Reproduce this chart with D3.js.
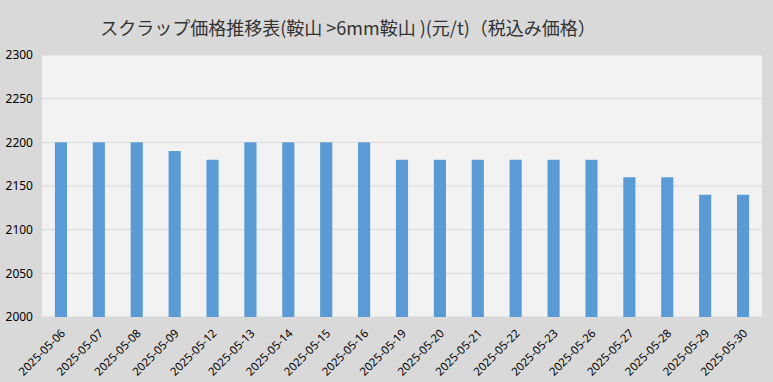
<!DOCTYPE html>
<html><head><meta charset="utf-8">
<script src="https://cdn.jsdelivr.net/npm/d3@7"></script>
<style>body{margin:0;background:#d9d9d9;}svg{display:block;}</style>
</head><body><svg id="c" width="773" height="382"></svg>
<script>
const categories = ["2025-05-06","2025-05-07","2025-05-08","2025-05-09","2025-05-12","2025-05-13","2025-05-14","2025-05-15","2025-05-16","2025-05-19","2025-05-20","2025-05-21","2025-05-22","2025-05-23","2025-05-26","2025-05-27","2025-05-28","2025-05-29","2025-05-30"];
const values = [2200,2200,2200,2190,2180,2200,2200,2200,2200,2180,2180,2180,2180,2180,2180,2160,2160,2140,2140];
const yTicks = [2000,2050,2100,2150,2200,2250,2300];
const title = "スクラップ価格推移表(鞍山 >6mm鞍山 )(元/t)（税込み価格）";

const svg = d3.select("#c");
const m = {l:42, r:11, t:55, b:65};
const W = 773, H = 382;
svg.append("rect").attr("width",W).attr("height",H).attr("fill","#d9d9d9");
const x = d3.scaleBand().domain(categories).range([m.l, W-m.r]).paddingInner(0.68).paddingOuter(0.34);
const y = d3.scaleLinear().domain([2000,2300]).range([H-m.b, m.t]);
svg.append("rect").attr("x",m.l).attr("y",m.t).attr("width",W-m.r-m.l).attr("height",H-m.b-m.t).attr("fill","#f2f2f2");
svg.append("g").selectAll("line").data(yTicks).join("line")
  .attr("x1",m.l).attr("x2",W-m.r).attr("y1",d=>y(d)).attr("y2",d=>y(d))
  .attr("stroke","#d9d9d9").attr("stroke-width",1);
svg.append("g").selectAll("rect").data(values).join("rect")
  .attr("x",(d,i)=>x(categories[i])).attr("width",x.bandwidth())
  .attr("y",d=>y(d)).attr("height",d=>y(2000)-y(d)).attr("fill","#5b9bd5");
const ya = svg.append("g").attr("transform",`translate(${m.l},0)`)
  .call(d3.axisLeft(y).tickValues(yTicks).tickSize(0).tickPadding(9).tickFormat(d3.format("d")));
ya.select(".domain").remove();
ya.selectAll("text").attr("font-family","'Noto Sans', sans-serif").attr("font-size","12px").attr("fill","#000");
const xa = svg.append("g").attr("transform",`translate(0,${H-m.b})`)
  .call(d3.axisBottom(x).tickSize(0).tickPadding(0));
xa.select(".domain").remove();
xa.selectAll("text").attr("font-family","'Noto Sans', sans-serif").attr("font-size","11.5px").attr("fill","#000")
  .attr("text-anchor","end").attr("dy","0").attr("transform","translate(5,17) rotate(-45)");
svg.append("text").attr("x",348).attr("y",35).attr("text-anchor","middle")
  .attr("font-family","'Noto Sans CJK JP', sans-serif").attr("font-size","18px").attr("fill","#333").text(title);
</script></body></html>
